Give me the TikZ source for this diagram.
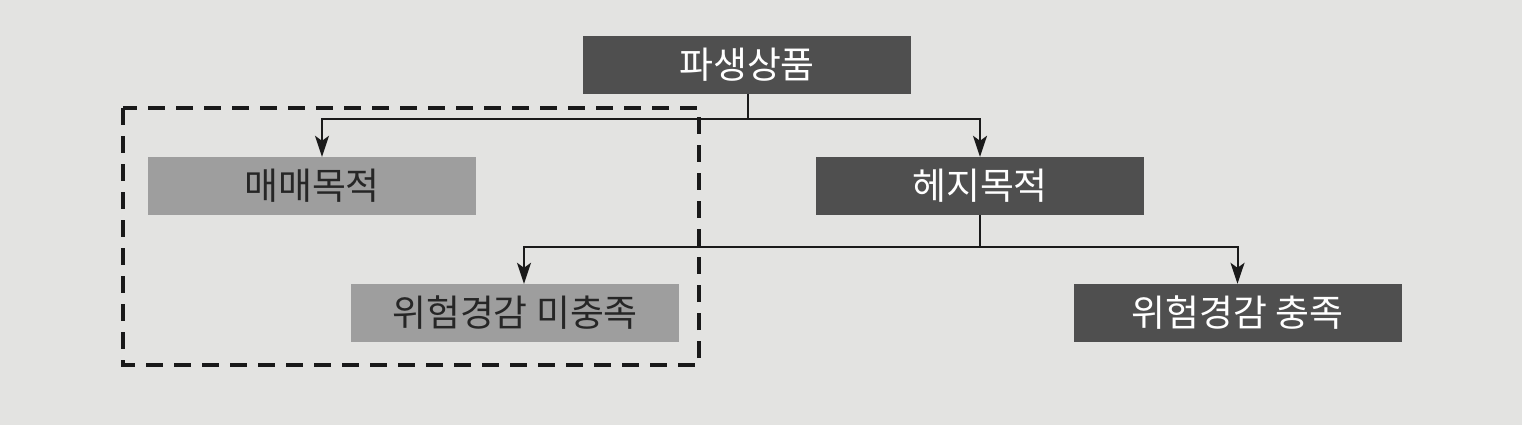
\documentclass[tikz,border=0pt]{standalone}
\usepackage{fontspec}
\newfontfamily\kr{Noto Sans CJK KR}
\usetikzlibrary{arrows.meta}
\definecolor{bgc}{HTML}{E3E3E1}
\definecolor{darkbox}{HTML}{4F4F4F}
\definecolor{lightbox}{HTML}{9E9E9E}
\definecolor{linec}{HTML}{1A1A1A}
\begin{document}
\begin{tikzpicture}[x=1bp,y=-1bp,
  boxbase/.style={minimum width=328bp,minimum height=58bp,inner sep=0pt,font=\kr\fontsize{37}{40}\selectfont},
  darknode/.style={boxbase,fill=darkbox,text=white},
  lightnode/.style={boxbase,fill=lightbox,text=black!85},
  conn/.style={draw=linec,line width=2bp,-{Stealth[length=21bp,width=14bp,inset=5bp]}},
  plain/.style={draw=linec,line width=2bp},
  groupbox/.style={draw=black!90,line width=3.2bp,dash pattern=on 17bp off 11bp}]
\fill[bgc] (0,0) rectangle (1522,425);
\useasboundingbox (0,0) rectangle (1522,425);
\node[darknode] (root) at (747,64.5) {파생상품};
\node[lightnode] (trade) at (312,186) {매매목적};
\node[darknode] (hedge) at (980,186) {헤지목적};
\node[lightnode] (notmet) at (515,313) {위험경감 미충족};
\node[darknode] (met) at (1237.5,313) {위험경감 충족};
\coordinate (j1) at (747.5,119);
\coordinate (j2) at (980,247);
\draw[plain] (root.south -| j1) -- (j1);
\draw[conn] (j1) -| ([xshift=10bp]trade.north);
\draw[conn] (j1) -| (hedge.north);
\draw[plain] (hedge.south) -- (j2);
\draw[conn] (j2) -| ([xshift=9bp]notmet.north);
\draw[conn] (j2) -| (met.north);
\draw[groupbox] (123,108) rectangle (699,365);
\end{tikzpicture}
\end{document}
